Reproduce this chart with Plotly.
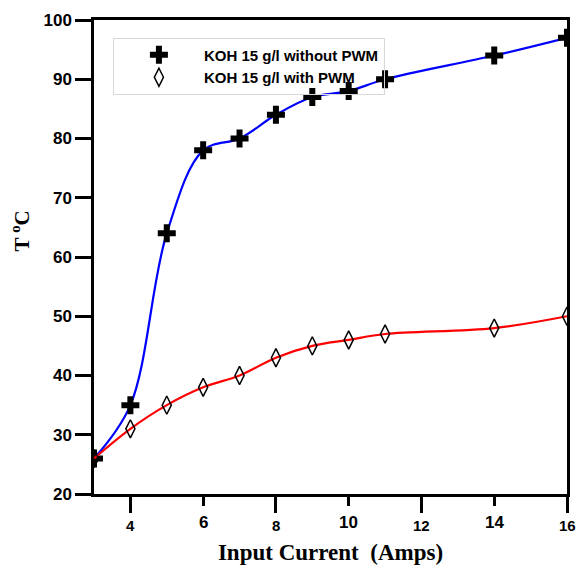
import plotly.graph_objects as go

current = [3, 4, 5, 6, 7, 8, 9, 10, 11, 14, 16]
temp_without_pwm = [26, 35, 64, 78, 80, 84, 87, 88, 90, 94, 97]
temp_with_pwm = [26, 31, 35, 38, 40, 43, 45, 46, 47, 48, 50]

x_major = [4, 8, 12, 16]
x_minor = [6, 10, 14]
x_tick_labels = ["4", "6", "8", "10", "12", "14", "16"]
y_ticks = [20, 30, 40, 50, 60, 70, 80, 90, 100]

series_names = ["KOH 15 g/l without PWM", "KOH 15 g/l with PWM"]
cross_marker = dict(symbol="cross", size=15, color="black", line=dict(width=0))
diamond_marker = dict(symbol="diamond-tall-open", size=13, color="black", line=dict(width=1.5, color="black"))

fig = go.Figure()
fig.add_trace(go.Scatter(
    x=current, y=temp_without_pwm, mode="lines+markers", showlegend=False,
    line=dict(color="#0000ff", width=2.2, shape="spline", smoothing=1.0),
    marker=cross_marker,
))
fig.add_trace(go.Scatter(
    x=current, y=temp_with_pwm, mode="lines+markers", showlegend=False,
    line=dict(color="#ff0000", width=2.2, shape="spline", smoothing=1.0),
    marker=diamond_marker,
))
# legend-only entries (markers only)
fig.add_trace(go.Scatter(x=[None], y=[None], mode="markers", name="<b>" + series_names[0] + "</b>", marker=cross_marker))
fig.add_trace(go.Scatter(x=[None], y=[None], mode="markers", name="<b>" + series_names[1] + "</b>", marker=diamond_marker))

# x tick labels as annotations (alternating style)
all_ticks = sorted(x_major + x_minor)
for v, t in zip(all_ticks, x_tick_labels):
    is_minor = v in x_minor
    fig.add_annotation(
        x=v, y=0, xref="x", yref="paper", text=f"<b>{t}</b>", showarrow=False,
        yanchor="top", yshift=-(17 if is_minor else 21),
        font=dict(family="Liberation Sans, Arial", size=17 if is_minor else 15, color="black"),
    )

# y-axis title
fig.add_annotation(
    x=-0.155, y=0.555, xref="paper", yref="paper", text="<b>T <sup>o</sup>C</b>",
    showarrow=False, textangle=-90, xanchor="center", yanchor="middle",
    font=dict(family="Liberation Serif, Times New Roman", size=21, color="black"),
)

fig.update_layout(
    width=581, height=567,
    margin=dict(l=94, r=11, t=20, b=70),
    paper_bgcolor="white", plot_bgcolor="white",
    showlegend=True,
    legend=dict(
        x=0.04, y=0.963, xanchor="left", yanchor="top",
        bgcolor="rgba(0,0,0,0)", bordercolor="#d8d8d8", borderwidth=1,
        font=dict(family="Liberation Sans, Arial", size=15, color="black"),
        itemwidth=80, tracegroupgap=0,
    ),
    xaxis=dict(
        range=[3, 16], showgrid=False, zeroline=False,
        showline=True, linecolor="black", linewidth=2.5, mirror=True,
        tickmode="array", tickvals=x_major, ticktext=["", "", "", ""],
        ticks="outside", ticklen=16, tickwidth=2.5, tickcolor="black",
        minor=dict(tickvals=x_minor, ticks="outside", ticklen=9, tickwidth=2.5, tickcolor="black"),
        title=dict(text="<b>Input Current  (Amps)</b>", standoff=30,
                   font=dict(family="Liberation Serif, Times New Roman", size=23, color="black")),
    ),
    yaxis=dict(
        range=[20, 100], showgrid=False, zeroline=False,
        showline=True, linecolor="black", linewidth=2.5, mirror=True,
        tickmode="array", tickvals=y_ticks, ticktext=[f"<b>{v}</b>" for v in y_ticks],
        ticks="outside", ticklen=16, tickwidth=2.5, tickcolor="black",
        tickfont=dict(family="Liberation Sans, Arial", size=17, color="black"),
    ),
)

fig.write_html("out.html", config={"displayModeBar": False})
with open("out.html", "r", encoding="utf-8") as f:
    html = f.read()
html = html.replace("<head>", "<head><style>html,body{margin:0;padding:0;overflow:hidden;}</style>", 1)
with open("out.html", "w", encoding="utf-8") as f:
    f.write(html)
